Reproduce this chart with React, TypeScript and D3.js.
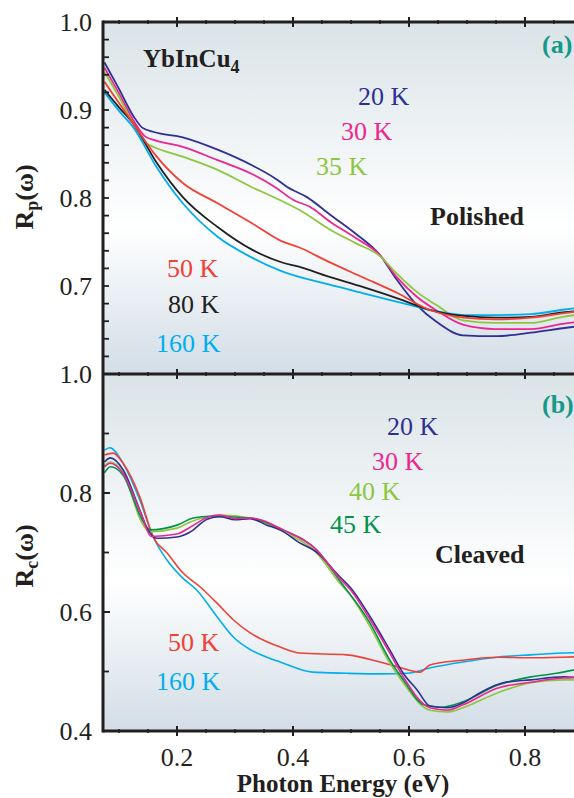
import React from "react";
import * as d3 from "d3";

// photon energy (eV) vs reflectance
const polished20K = [[0.075,0.954],[0.10,0.924],[0.125,0.893],[0.14,0.880],[0.16,0.875],[0.21,0.869],[0.27,0.855],[0.33,0.837],[0.37,0.822],[0.39,0.8125],[0.424,0.801],[0.464,0.781],[0.507,0.760],[0.55,0.735],[0.579,0.707],[0.614,0.678],[0.648,0.659],[0.693,0.644],[0.75,0.643],[0.81,0.647],[0.865,0.652],[0.9,0.655]];
const polished30K = [[0.075,0.948],[0.10,0.919],[0.125,0.888],[0.145,0.870],[0.16,0.866],[0.21,0.858],[0.27,0.843],[0.33,0.827],[0.37,0.812],[0.40,0.798],[0.429,0.790],[0.464,0.773],[0.507,0.755],[0.55,0.735],[0.579,0.710],[0.614,0.6875],[0.648,0.672],[0.693,0.656],[0.75,0.651],[0.81,0.651],[0.865,0.657],[0.9,0.660]];
const polished35K = [[0.075,0.943],[0.10,0.915],[0.125,0.884],[0.148,0.862],[0.16,0.858],[0.21,0.847],[0.27,0.832],[0.33,0.812],[0.37,0.800],[0.412,0.786],[0.464,0.764],[0.507,0.749],[0.55,0.734],[0.579,0.714],[0.614,0.693],[0.648,0.678],[0.693,0.661],[0.75,0.658],[0.81,0.658],[0.865,0.665],[0.9,0.668]];
const polished50K = [[0.075,0.932],[0.10,0.908],[0.125,0.884],[0.165,0.847],[0.21,0.817],[0.27,0.794],[0.33,0.771],[0.38,0.751],[0.41,0.744],[0.46,0.728],[0.52,0.710],[0.58,0.692],[0.635,0.673],[0.695,0.664],[0.75,0.662],[0.81,0.664],[0.865,0.669],[0.9,0.672]];
const polished80K = [[0.075,0.923],[0.10,0.903],[0.125,0.884],[0.165,0.840],[0.21,0.801],[0.27,0.767],[0.33,0.741],[0.38,0.727],[0.41,0.722],[0.46,0.711],[0.52,0.699],[0.58,0.686],[0.635,0.673],[0.695,0.666],[0.75,0.664],[0.81,0.665],[0.865,0.670],[0.9,0.672]];
const polished160K = [[0.075,0.920],[0.10,0.899],[0.125,0.880],[0.165,0.835],[0.21,0.794],[0.27,0.756],[0.33,0.732],[0.38,0.717],[0.46,0.702],[0.52,0.692],[0.58,0.682],[0.635,0.673],[0.695,0.667],[0.75,0.667],[0.81,0.668],[0.865,0.673],[0.9,0.676]];

const cleaved20K = [[0.075,0.852],[0.085,0.859],[0.107,0.839],[0.136,0.771],[0.15,0.738],[0.165,0.724],[0.20,0.726],[0.222,0.734],[0.252,0.756],[0.274,0.760],[0.30,0.755],[0.326,0.757],[0.355,0.746],[0.378,0.738],[0.41,0.717],[0.44,0.701],[0.48,0.660],[0.50,0.640],[0.533,0.592],[0.567,0.536],[0.59,0.497],[0.614,0.469],[0.636,0.442],[0.666,0.439],[0.693,0.447],[0.722,0.464],[0.762,0.481],[0.81,0.486],[0.866,0.491],[0.9,0.489]];
const cleaved30K = [[0.075,0.844],[0.085,0.850],[0.107,0.833],[0.14,0.760],[0.155,0.727],[0.20,0.731],[0.222,0.742],[0.252,0.759],[0.274,0.763],[0.30,0.757],[0.326,0.758],[0.383,0.738],[0.441,0.704],[0.481,0.656],[0.50,0.636],[0.533,0.587],[0.567,0.531],[0.59,0.491],[0.636,0.439],[0.666,0.435],[0.693,0.444],[0.752,0.472],[0.81,0.482],[0.866,0.489],[0.9,0.490]];
const cleaved40K = [[0.075,0.846],[0.085,0.852],[0.107,0.834],[0.14,0.749],[0.153,0.735],[0.20,0.741],[0.222,0.751],[0.252,0.760],[0.274,0.763],[0.326,0.758],[0.383,0.735],[0.441,0.699],[0.481,0.648],[0.50,0.627],[0.533,0.575],[0.567,0.514],[0.59,0.481],[0.636,0.435],[0.666,0.432],[0.693,0.439],[0.752,0.464],[0.81,0.481],[0.866,0.486],[0.9,0.486]];
const cleaved45K = [[0.075,0.834],[0.085,0.844],[0.107,0.830],[0.14,0.755],[0.153,0.738],[0.20,0.746],[0.228,0.758],[0.257,0.761],[0.326,0.758],[0.383,0.738],[0.441,0.704],[0.481,0.652],[0.533,0.581],[0.567,0.519],[0.59,0.486],[0.626,0.444],[0.655,0.440],[0.693,0.449],[0.752,0.477],[0.81,0.491],[0.855,0.497],[0.9,0.506]];
const cleaved50K = [[0.075,0.864],[0.09,0.867],[0.107,0.850],[0.136,0.793],[0.159,0.726],[0.183,0.699],[0.21,0.666],[0.24,0.642],[0.269,0.615],[0.297,0.587],[0.326,0.565],[0.355,0.550],[0.378,0.541],[0.412,0.531],[0.493,0.528],[0.55,0.516],[0.58,0.508],[0.619,0.499],[0.636,0.511],[0.693,0.519],[0.752,0.524],[0.809,0.523],[0.866,0.524],[0.9,0.525]];
const cleaved160K = [[0.075,0.872],[0.084,0.876],[0.107,0.850],[0.136,0.788],[0.159,0.726],[0.183,0.687],[0.21,0.657],[0.234,0.637],[0.269,0.592],[0.297,0.558],[0.326,0.537],[0.355,0.524],[0.378,0.516],[0.434,0.499],[0.493,0.497],[0.55,0.496],[0.597,0.497],[0.636,0.506],[0.693,0.516],[0.752,0.524],[0.809,0.528],[0.866,0.531],[0.9,0.532]];

const xTicks = [0.2, 0.4, 0.6, 0.8];
const topYTicks = [0.7, 0.8, 0.9, 1.0];
const bottomYTicks = [0.4, 0.6, 0.8, 1.0];

const C = {
  navy: "#2e3192",
  magenta: "#ec268f",
  lime: "#8dc63f",
  red: "#ef4136",
  black: "#231f20",
  cyan: "#00aeef",
  green: "#00944a",
  teal: "#15998a",
};

const polishedSeries = [
  { name: "20 K", data: polished20K, color: C.navy },
  { name: "30 K", data: polished30K, color: C.magenta },
  { name: "35 K", data: polished35K, color: C.lime },
  { name: "160 K", data: polished160K, color: C.cyan },
  { name: "80 K", data: polished80K, color: C.black },
  { name: "50 K", data: polished50K, color: C.red },
];
const cleavedSeries = [
  { name: "160 K", data: cleaved160K, color: C.cyan },
  { name: "50 K", data: cleaved50K, color: C.red },
  { name: "40 K", data: cleaved40K, color: C.lime },
  { name: "45 K", data: cleaved45K, color: C.green },
  { name: "20 K", data: cleaved20K, color: C.navy },
  { name: "30 K", data: cleaved30K, color: C.magenta },
];

const FONT = "'Liberation Serif', 'Times New Roman', serif";
const W = 574, H = 798;
const left = 103, right = 583;
const topA = 22, midY = 374, botB = 731;

export default function App() {
  const x = d3.scaleLinear().domain([0.2, 0.8]).range([177, 525]);
  const xDomainMin = x.invert(left), xDomainMax = x.invert(right);
  const yA = d3.scaleLinear().domain([0.6, 1.0]).range([midY, topA]);
  const yB = d3.scaleLinear().domain([0.4, 1.0]).range([botB, midY]);

  const lineA = d3.line<number[]>().x(d => x(d[0])).y(d => yA(d[1])).curve(d3.curveMonotoneX);
  const lineB = d3.line<number[]>().x(d => x(d[0])).y(d => yB(d[1])).curve(d3.curveMonotoneX);

  const xMinor = d3.range(0.1, 0.9, 0.05).filter(v => v > xDomainMin && v < xDomainMax);
  const yAMinor = d3.range(0.62, 1.0, 0.02);
  const yBMinor = d3.range(0.5, 1.0, 0.1);

  const xTickRow = (y0: number, k: string) =>
    xMinor.map((v, i) => {
      const major = xTicks.some(t => Math.abs(t - v) < 1e-6);
      const len = major ? 5 : 2;
      return <line key={k + i} x1={x(v)} x2={x(v)} y1={y0 - len} y2={y0 + len} stroke="#231f20" strokeWidth={major ? 2 : 1.6} />;
    });

  const label = (t: string, px: number, py: number, color: string, bold = false) => (
    <text x={px} y={py} fill={color} fontSize={26} fontWeight={bold ? "bold" : "normal"}>{t}</text>
  );

  return (
    <div style={{ position: "absolute", left: 0, top: 0 }}>
      <svg width={W} height={H} fontFamily={FONT} style={{ display: "block" }}>
        <defs>
          <linearGradient id="bgA" x1="0" y1="0" x2="0" y2="1">
            <stop offset="0" stopColor="#dae3e7" />
            <stop offset="0.58" stopColor="#ffffff" />
            <stop offset="1" stopColor="#d2dde6" />
          </linearGradient>
          <clipPath id="clipA"><rect x={left} y={topA} width={right - left} height={midY - topA} /></clipPath>
          <clipPath id="clipB"><rect x={left} y={midY} width={right - left} height={botB - midY} /></clipPath>
        </defs>
        <rect width={W} height={H} fill="#fff" />
        <rect x={left} y={topA} width={right - left} height={midY - topA} fill="url(#bgA)" />
        <rect x={left} y={midY} width={right - left} height={botB - midY} fill="url(#bgA)" />

        {/* curves */}
        <g clipPath="url(#clipA)">
          {polishedSeries.map(s => (
            <path key={s.name} d={lineA(s.data) || ""} fill="none" stroke={s.color} strokeWidth={1.8} />
          ))}
        </g>
        <g clipPath="url(#clipB)">
          {cleavedSeries.map(s => (
            <path key={s.name} d={lineB(s.data) || ""} fill="none" stroke={s.color} strokeWidth={1.6} />
          ))}
        </g>

        {/* frame */}
        <g stroke="#231f20" strokeWidth={3} fill="none">
          <line x1={left} x2={right} y1={topA} y2={topA} />
          <line x1={left} x2={right} y1={midY} y2={midY} />
          <line x1={left} x2={right} y1={botB} y2={botB} />
          <line x1={left} x2={left} y1={topA - 1.5} y2={botB + 1.5} />
        </g>

        {/* x ticks */}
        {xTickRow(topA, "t")}
        {xTickRow(midY, "m")}
        {xTickRow(botB, "b")}

        {/* y ticks */}
        {yAMinor.map((v, i) => (
          <line key={"ya" + i} x1={left} x2={left + 6} y1={yA(v)} y2={yA(v)} stroke="#231f20" strokeWidth={1.8} />
        ))}
        {yBMinor.map((v, i) => (
          <line key={"yb" + i} x1={left} x2={left + 6} y1={yB(v)} y2={yB(v)} stroke="#231f20" strokeWidth={1.8} />
        ))}
        {[0.8, 0.6].map((v, i) => (
          <line key={"ybm" + i} x1={left} x2={left + 7} y1={yB(v)} y2={yB(v)} stroke="#231f20" strokeWidth={2} />
        ))}

        {/* tick labels */}
        <g fontSize={26} fill="#231f20" textAnchor="end">
          {topYTicks.map(v => (
            <text key={"la" + v} x={92} y={yA(v)} dy="0.35em">{d3.format(".1f")(v)}</text>
          ))}
          {bottomYTicks.map(v => (
            <text key={"lb" + v} x={92} y={yB(v)} dy="0.35em">{d3.format(".1f")(v)}</text>
          ))}
        </g>
        <g fontSize={26} fill="#231f20" textAnchor="middle">
          {xTicks.map(v => (
            <text key={"lx" + v} x={x(v)} y={766}>{d3.format(".1f")(v)}</text>
          ))}
        </g>

        {/* axis titles */}
        <text x={(left + right) / 2} y={792} textAnchor="middle" fontSize={25} fontWeight="bold" fill="#231f20">Photon Energy (eV)</text>
        <text transform="translate(33,197) rotate(-90)" textAnchor="middle" fontSize={26} fontWeight="bold" fill="#231f20">
          R<tspan fontSize={18} dy={5}>p</tspan><tspan dy={-5}>(ω)</tspan>
        </text>
        <text transform="translate(33,556) rotate(-90)" textAnchor="middle" fontSize={26} fontWeight="bold" fill="#231f20">
          R<tspan fontSize={18} dy={5}>c</tspan><tspan dy={-5}>(ω)</tspan>
        </text>

        {/* annotations, panel a */}
        <text x={143} y={67} fontSize={25} fontWeight="bold" fill="#231f20">
          YbInCu<tspan fontSize={18} dy={6}>4</tspan>
        </text>
        {label("(a)", 542, 53, C.teal, true)}
        {label("20 K", 358, 105, C.navy)}
        {label("30 K", 341, 140, C.magenta)}
        {label("35 K", 316, 175, C.lime)}
        {label("Polished", 430, 225, "#231f20", true)}
        {label("50 K", 167, 277, C.red)}
        {label("80 K", 168, 313, C.black)}
        {label("160 K", 156, 352, C.cyan)}

        {/* annotations, panel b */}
        {label("(b)", 542, 413, C.teal, true)}
        {label("20 K", 387, 435, C.navy)}
        {label("30 K", 372, 470, C.magenta)}
        {label("40 K", 349, 500, C.lime)}
        {label("45 K", 330, 533, C.green)}
        {label("Cleaved", 435, 563, "#231f20", true)}
        {label("50 K", 168, 651, C.red)}
        {label("160 K", 156, 690, C.cyan)}
      </svg>
    </div>
  );
}
